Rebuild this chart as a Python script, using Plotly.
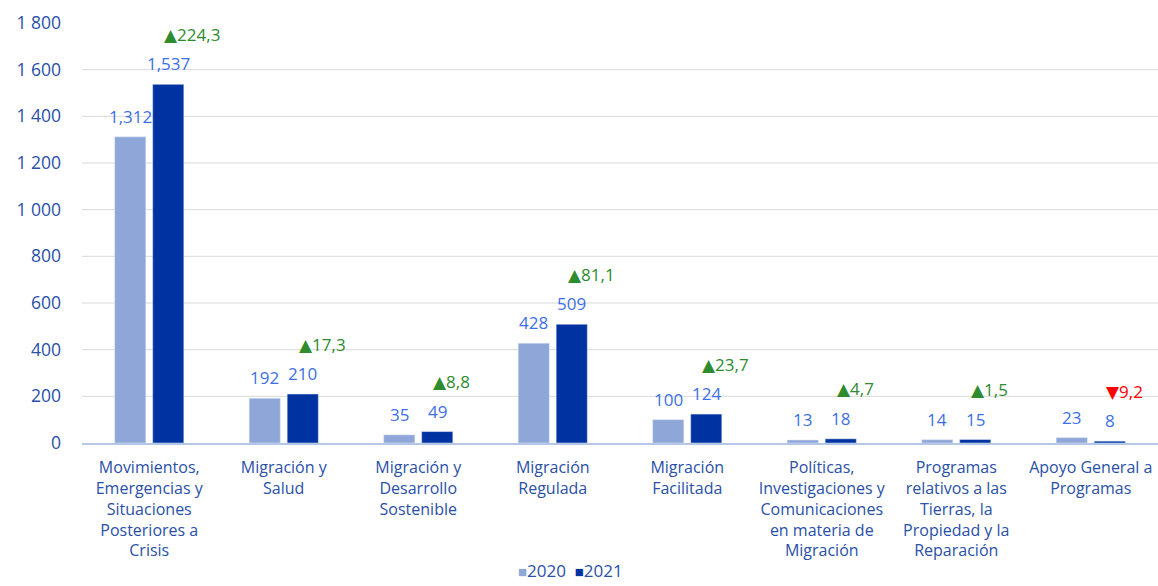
import plotly.graph_objects as go

categories = [
    "Movimientos,<br>Emergencias y<br>Situaciones<br>Posteriores a<br>Crisis",
    "Migración y<br>Salud",
    "Migración y<br>Desarrollo<br>Sostenible",
    "Migración<br>Regulada",
    "Migración<br>Facilitada",
    "Políticas,<br>Investigaciones y<br>Comunicaciones<br>en materia de<br>Migración",
    "Programas<br>relativos a las<br>Tierras, la<br>Propiedad y la<br>Reparación",
    "Apoyo General a<br>Programas",
]
series_names = ["2020", "2021"]
values_2020 = [1312, 192, 35, 428, 100, 13, 14, 23]
values_2021 = [1537, 210, 49, 509, 124, 18, 15, 8]
changes = [224.3, 17.3, 8.8, 81.1, 23.7, 4.7, 1.5, -9.2]
y_tickvals = [0, 200, 400, 600, 800, 1000, 1200, 1400, 1600, 1800]
y_ticktext = ["0", "200", "400", "600", "800", "1 000", "1 200", "1 400", "1 600", "1 800"]

FONT = "Open Sans"
C2020 = "#8FA6D8"
C2021 = "#0033A1"
LABEL = "#3D6FE8"
AXIS = "#2A50A8"

idx = list(range(len(categories)))

fig = go.Figure()
fig.add_trace(go.Bar(x=idx, y=values_2020, name=series_names[0], marker_color=C2020,
                     showlegend=False))
fig.add_trace(go.Bar(x=idx, y=values_2021, name=series_names[1], marker_color=C2021,
                     showlegend=False))

annotations = []
for i, (a, b, c) in enumerate(zip(values_2020, values_2021, changes)):
    annotations.append(dict(x=i - 0.14, y=a, xref="x", yref="y", text=f"{a:,}",
                            showarrow=False, yanchor="bottom", yshift=7,
                            font=dict(family=FONT, size=17, color=LABEL)))
    annotations.append(dict(x=i + 0.14, y=b, xref="x", yref="y", text=f"{b:,}",
                            showarrow=False, yanchor="bottom", yshift=7,
                            font=dict(family=FONT, size=17, color=LABEL)))
    sym = "▲" if c >= 0 else "▼"
    col = "#2E8B2E" if c >= 0 else "#FF0000"
    txt = ('<span style="font-family:DejaVu Sans">' + sym + '</span>'
           + f"{abs(c):.1f}".replace(".", ","))
    annotations.append(dict(x=i + 0.14, y=b, xref="x", yref="y", text=txt,
                            showarrow=False, xanchor="left", yanchor="middle",
                            xshift=-6, yshift=50,
                            font=dict(family=FONT, size=17, color=col)))

# legend drawn as text
legend_txt = (f'<span style="color:{C2020};font-size:15px">■</span>{series_names[0]}&nbsp;&nbsp;'
              f'<span style="color:{C2021};font-size:15px">■</span>{series_names[1]}')
annotations.append(dict(x=0.454, y=-0.336, xref="paper", yref="paper", text=legend_txt,
                        showarrow=False, xanchor="center", yanchor="bottom",
                        font=dict(family=FONT, size=17, color=AXIS)))

shapes = []
for v in y_tickvals[1:-1]:
    shapes.append(dict(type="line", xref="paper", yref="y", x0=0, x1=1, y0=v, y1=v,
                       line=dict(color="#D9D9D9", width=1), layer="below"))

fig.update_layout(
    width=1158, height=586,
    margin=dict(l=82, r=0, t=23, b=143, autoexpand=False),
    plot_bgcolor="white", paper_bgcolor="white",
    barmode="group", bargap=0.435, bargroupgap=0.18,
    font=dict(family=FONT, size=16, color=AXIS),
    showlegend=False,
    xaxis=dict(tickmode="array", tickvals=idx, ticktext=categories,
               range=[-0.5, len(categories) - 0.5], automargin=False,
               showline=True, linecolor="#B4C7E7", linewidth=2,
               showgrid=False, ticks="", ticklabelstandoff=9,
               tickfont=dict(family=FONT, size=16, color=AXIS)),
    yaxis=dict(range=[0, 1800], tickvals=y_tickvals, ticktext=y_ticktext,
               automargin=False,
               showgrid=False, zeroline=False, ticks="", ticklabelstandoff=20,
               tickfont=dict(family=FONT, size=17.5, color=AXIS)),
    annotations=annotations,
    shapes=shapes,
)

fig.write_html("out.html", config={"displayModeBar": False},
               post_script="document.body.style.margin='0';document.body.style.overflow='hidden';")
